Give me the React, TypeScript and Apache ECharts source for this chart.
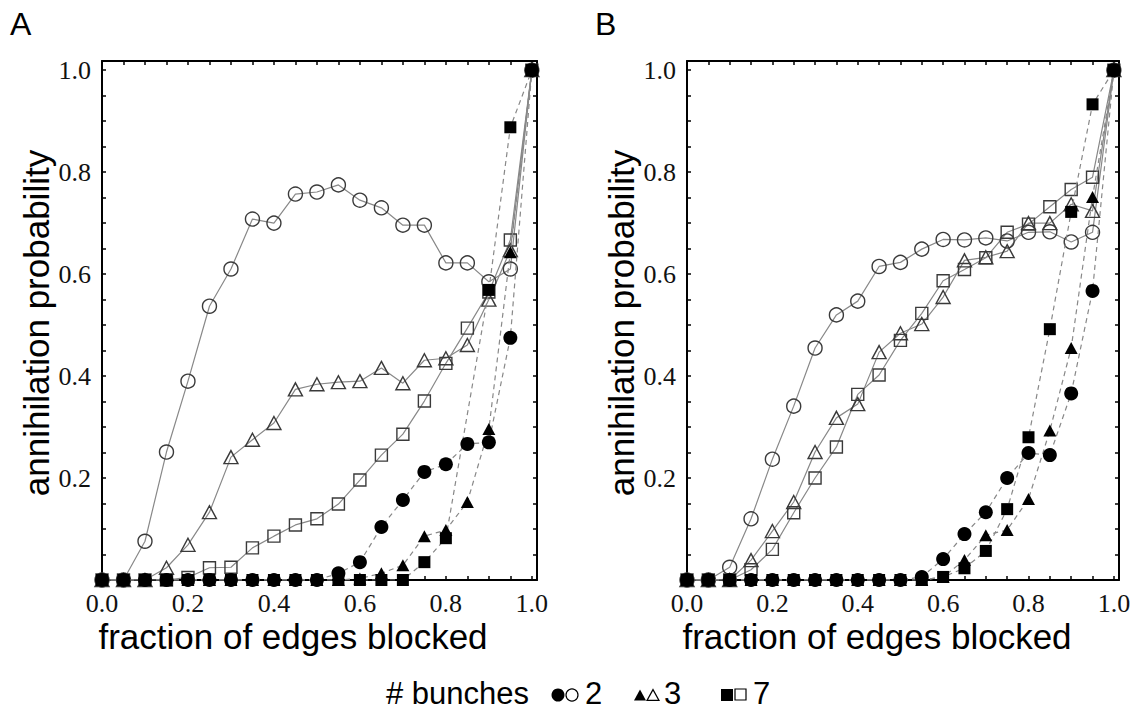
import React, { useEffect, useRef } from "react";
import * as echarts from "echarts";

// fraction of edges blocked
const XS = [0, 0.05, 0.1, 0.15, 0.2, 0.25, 0.3, 0.35, 0.4, 0.45, 0.5, 0.55, 0.6, 0.65, 0.7, 0.75, 0.8, 0.85, 0.9, 0.95, 1.0];

// Panel A
const A_OPEN_2 = [0, 0, 0.076, 0.251, 0.39, 0.537, 0.61, 0.708, 0.7, 0.757, 0.761, 0.775, 0.745, 0.73, 0.696, 0.696, 0.622, 0.622, 0.585, 0.61, 1.0];
const A_OPEN_3 = [0, 0, 0, 0.024, 0.069, 0.133, 0.241, 0.275, 0.308, 0.374, 0.384, 0.388, 0.39, 0.416, 0.386, 0.431, 0.435, 0.461, 0.55, 0.647, 1.0];
const A_OPEN_7 = [0, 0, 0, 0, 0.005, 0.024, 0.025, 0.063, 0.086, 0.108, 0.12, 0.149, 0.196, 0.245, 0.286, 0.351, 0.425, 0.494, 0.565, 0.667, 1.0];
const A_FILL_2 = [0, 0, 0, 0, 0, 0, 0, 0, 0, 0, 0, 0.013, 0.035, 0.104, 0.157, 0.212, 0.227, 0.267, 0.27, 0.475, 1.0];
const A_FILL_3 = [0, 0, 0, 0, 0, 0, 0, 0, 0, 0, 0, 0, 0.003, 0.013, 0.029, 0.086, 0.098, 0.153, 0.296, 0.643, 1.0];
const A_FILL_7 = [0, 0, 0, 0, 0, 0, 0, 0, 0, 0, 0, 0, 0, 0, 0, 0.035, 0.082, null, 0.569, 0.888, 1.0];

// Panel B
const B_OPEN_2 = [0, 0, 0.025, 0.12, 0.237, 0.341, 0.455, 0.52, 0.547, 0.615, 0.623, 0.649, 0.668, 0.667, 0.671, 0.665, 0.682, 0.683, 0.663, 0.682, 1.0];
const B_OPEN_3 = [0, 0, 0, 0.039, 0.096, 0.153, 0.251, 0.318, 0.345, 0.447, 0.484, 0.502, 0.555, 0.627, 0.633, 0.645, 0.7, 0.7, 0.737, 0.724, 1.0];
const B_OPEN_7 = [0, 0, 0, 0.02, 0.06, 0.132, 0.2, 0.261, 0.364, 0.402, 0.47, 0.523, 0.587, 0.609, 0.632, 0.682, 0.698, 0.732, 0.766, 0.79, 1.0];
const B_FILL_2 = [0, 0, 0, 0, 0, 0, 0, 0, 0, 0, 0, 0.006, 0.041, 0.09, 0.133, 0.2, 0.249, 0.245, 0.366, 0.567, 1.0];
const B_FILL_3 = [0, 0, 0, 0, 0, 0, 0, 0, 0, 0, 0, 0, 0.006, 0.039, 0.088, 0.098, 0.159, 0.293, 0.455, 0.751, 1.0];
const B_FILL_7 = [0, 0, 0, 0, 0, 0, 0, 0, 0, 0, 0, 0, 0.006, 0.023, 0.057, 0.139, 0.28, 0.492, 0.722, 0.933, 1.0];

const PANEL_LABELS = ["A", "B"];
const X_TITLE = "fraction of edges blocked";
const Y_TITLE = "annihilation probability";
const LEGEND_TITLE = "# bunches";
const BUNCHES = ["2", "3", "7"];

const SERIF = "'Liberation Serif', 'DejaVu Serif', serif";
const SANS = "'Liberation Sans', Arial, sans-serif";

const isMajor = (v: number) => Math.abs(v * 5 - Math.round(v * 5)) < 1e-6 && v <= 1.0001;

function mkXAxis(gridIndex: number, position: string, showLabels: boolean) {
  return {
    type: "value",
    gridIndex,
    position,
    min: 0,
    max: 1.012,
    interval: 0.05,
    axisLine: { show: true, onZero: false, lineStyle: { color: "#000", width: 2 } },
    axisTick: { show: true, inside: true, length: 4, lineStyle: { color: "#000", width: 1.5 } },
    axisLabel: {
      show: showLabels,
      margin: 10,
      fontFamily: SERIF,
      fontSize: 26,
      color: "#111",
      formatter: (v: number) => (isMajor(v) ? v.toFixed(1) : ""),
    },
    splitLine: { show: false },
  };
}

function mkYAxis(gridIndex: number, position: string, showLabels: boolean) {
  return {
    type: "value",
    gridIndex,
    position,
    min: 0,
    max: 1.018,
    interval: 0.05,
    axisLine: { show: true, onZero: false, lineStyle: { color: "#000", width: 2 } },
    axisTick: { show: true, inside: true, length: 4, lineStyle: { color: "#000", width: 1.5 } },
    axisLabel: {
      show: showLabels,
      margin: 11,
      fontFamily: SERIF,
      fontSize: 26,
      color: "#111",
      formatter: (v: number) => (isMajor(v) && v > 0.01 ? v.toFixed(1) : ""),
    },
    splitLine: { show: false },
  };
}

function mkSeries(
  name: string,
  axisIndex: number,
  vals: (number | null)[],
  symbol: string,
  size: number | number[],
  filled: boolean
) {
  return {
    name,
    type: "line",
    xAxisIndex: axisIndex,
    yAxisIndex: axisIndex,
    data: XS.map((x, i) => [x, vals[i]]).filter((p) => p[1] !== null),
    symbol,
    symbolSize: size,
    showAllSymbol: true,
    clip: true,
    lineStyle: {
      color: "#888",
      width: 1.2,
      type: filled ? [5, 4] : "solid",
    },
    itemStyle: filled
      ? { color: "#000", borderColor: "#000", borderWidth: 0 }
      : { color: "rgba(255,255,255,0)", borderColor: "#3a3a3a", borderWidth: 1.4 },
    emphasis: { disabled: true },
    z: filled ? 3 : 2,
  };
}

function panelSeries(prefix: string, axisIndex: number, o2: any[], o3: any[], o7: any[], f2: any[], f3: any[], f7: any[]) {
  return [
    mkSeries(prefix + " open 2", axisIndex, o2, "circle", 14, false),
    mkSeries(prefix + " open 3", axisIndex, o3, "triangle", [14, 13], false),
    mkSeries(prefix + " open 7", axisIndex, o7, "rect", 12, false),
    mkSeries(prefix + " filled 2", axisIndex, f2, "circle", 14, true),
    mkSeries(prefix + " filled 3", axisIndex, f3, "triangle", [13, 12], true),
    mkSeries(prefix + " filled 7", axisIndex, f7, "rect", 12, true),
  ];
}

function tri(cx: number, cy: number, s: number) {
  const h = s * 0.9;
  return [
    [cx, cy - h / 2],
    [cx + s / 2, cy + h / 2],
    [cx - s / 2, cy + h / 2],
  ];
}

export default function App() {
  const ref = useRef<HTMLDivElement>(null);

  useEffect(() => {
    if (!ref.current) return;
    const chart = echarts.init(ref.current, null, { renderer: "svg" });
    const legendY = 693;
    const option: any = {
      animation: false,
      backgroundColor: "#fff",
      grid: [
        { left: 102, right: 599, top: 61, bottom: 134 },
        { left: 687, right: 17, top: 61, bottom: 134 },
      ],
      xAxis: [
        mkXAxis(0, "bottom", true),
        mkXAxis(1, "bottom", true),
        mkXAxis(0, "top", false),
        mkXAxis(1, "top", false),
      ],
      yAxis: [
        mkYAxis(0, "left", true),
        mkYAxis(1, "left", true),
        mkYAxis(0, "right", false),
        mkYAxis(1, "right", false),
      ],
      series: [
        ...panelSeries("A", 0, A_OPEN_2, A_OPEN_3, A_OPEN_7, A_FILL_2, A_FILL_3, A_FILL_7),
        ...panelSeries("B", 1, B_OPEN_2, B_OPEN_3, B_OPEN_7, B_FILL_2, B_FILL_3, B_FILL_7),
      ],
      graphic: [
        { type: "text", left: 10, top: 8, style: { text: PANEL_LABELS[0], font: `32px ${SANS}`, fill: "#000" } },
        { type: "text", left: 595, top: 8, style: { text: PANEL_LABELS[1], font: `32px ${SANS}`, fill: "#000" } },
        { type: "text", x: 293, y: 636, style: { text: X_TITLE, font: `35px ${SANS}`, fill: "#000", align: "center", verticalAlign: "middle" } },
        { type: "text", x: 877, y: 636, style: { text: X_TITLE, font: `35px ${SANS}`, fill: "#000", align: "center", verticalAlign: "middle" } },
        { type: "text", x: 36, y: 323, rotation: Math.PI / 2, style: { text: Y_TITLE, font: `35px ${SANS}`, fill: "#000", align: "center", verticalAlign: "middle" } },
        { type: "text", x: 621, y: 323, rotation: Math.PI / 2, style: { text: Y_TITLE, font: `35px ${SANS}`, fill: "#000", align: "center", verticalAlign: "middle" } },
        // legend
        { type: "text", x: 386, y: legendY, style: { text: LEGEND_TITLE, font: `31px ${SANS}`, fill: "#000", align: "left", verticalAlign: "middle" } },
        { type: "circle", shape: { cx: 558, cy: legendY + 2, r: 6.5 }, style: { fill: "#000" } },
        { type: "circle", shape: { cx: 572, cy: legendY + 2, r: 6 }, style: { fill: "none", stroke: "#000", lineWidth: 1.2 } },
        { type: "text", x: 585, y: legendY, style: { text: BUNCHES[0], font: `31px ${SANS}`, fill: "#000", align: "left", verticalAlign: "middle" } },
        { type: "polygon", shape: { points: tri(640, legendY + 2, 12) }, style: { fill: "#000" } },
        { type: "polygon", shape: { points: tri(653, legendY + 2, 12) }, style: { fill: "none", stroke: "#000", lineWidth: 1.2 } },
        { type: "text", x: 664, y: legendY, style: { text: BUNCHES[1], font: `31px ${SANS}`, fill: "#000", align: "left", verticalAlign: "middle" } },
        { type: "rect", shape: { x: 721, y: legendY - 4, width: 12, height: 12 }, style: { fill: "#000" } },
        { type: "rect", shape: { x: 735, y: legendY - 4, width: 11, height: 11 }, style: { fill: "none", stroke: "#000", lineWidth: 1.2 } },
        { type: "text", x: 753, y: legendY, style: { text: BUNCHES[2], font: `31px ${SANS}`, fill: "#000", align: "left", verticalAlign: "middle" } },
      ],
    };
    chart.setOption(option);
    return () => chart.dispose();
  }, []);

  return (
    <div
      ref={ref}
      style={{ position: "absolute", left: 0, top: 0, width: 1136, height: 714, background: "#fff" }}
    />
  );
}
